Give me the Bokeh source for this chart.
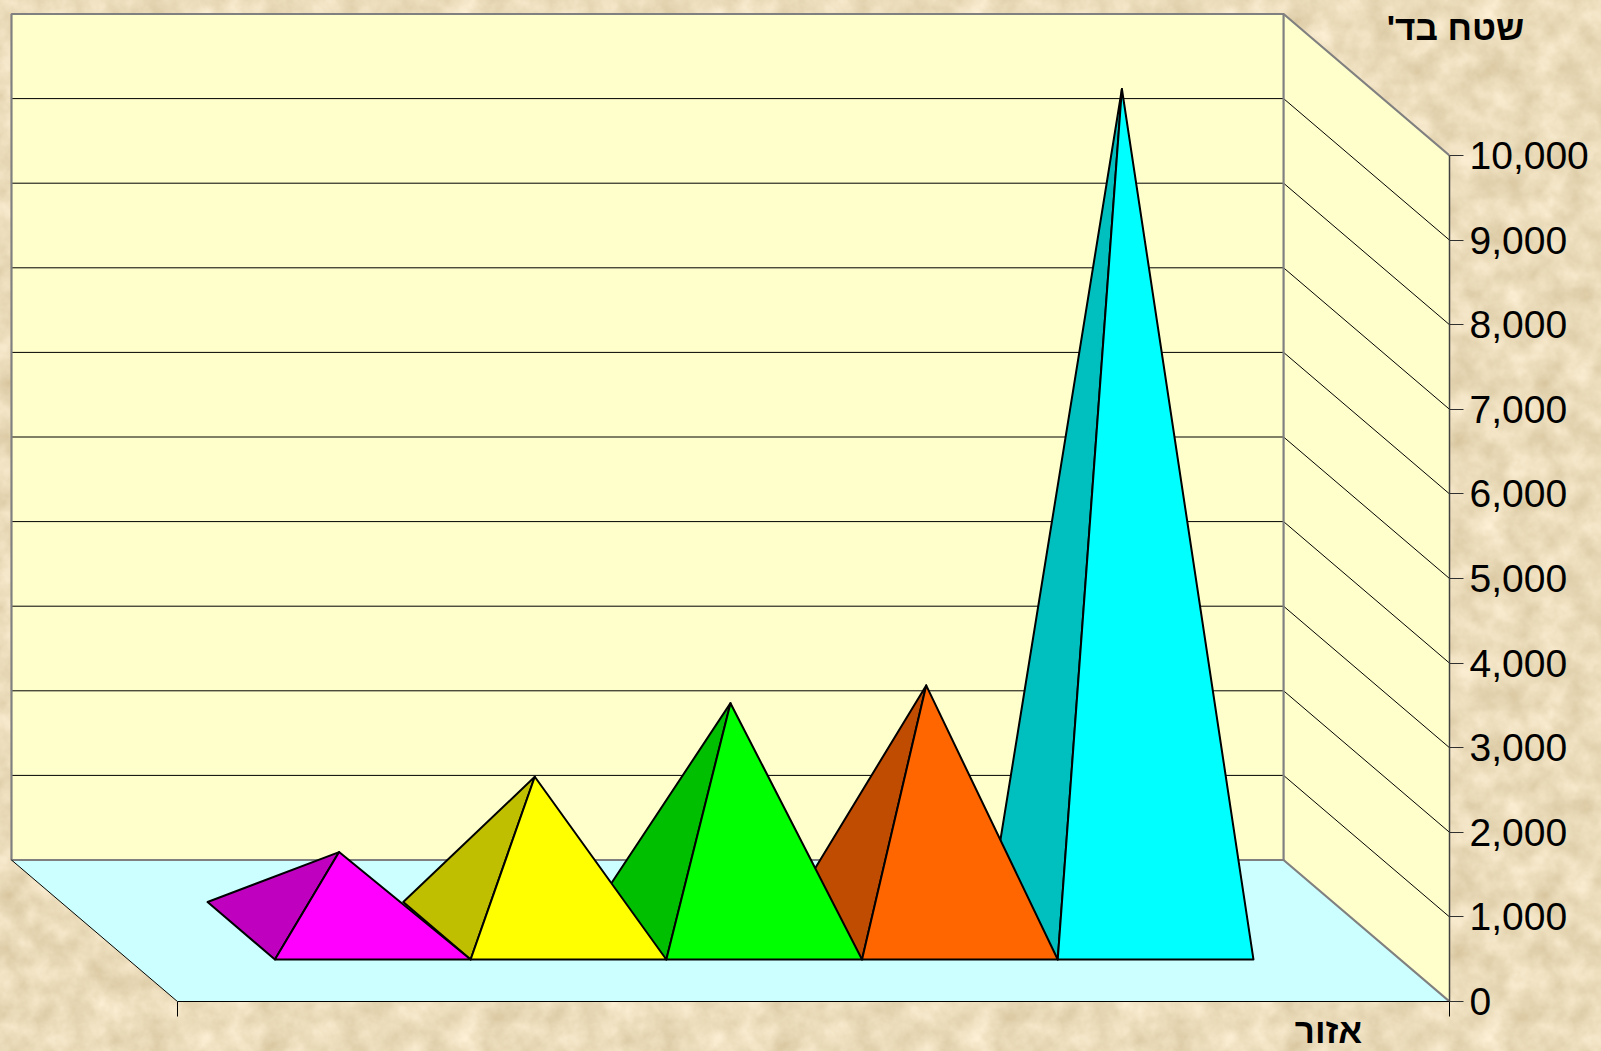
from bokeh.plotting import figure
from bokeh.models import LinearAxis, FixedTicker, NumeralTickFormatter, Label, Range1d
from bokeh.embed import file_html
from bokeh.resources import INLINE

# ---- data ----
values = [930, 1820, 2690, 2900, 9950]
front_colors = ["#FF00FF", "#FFFF00", "#00FF00", "#FF6600", "#00FFFF"]
side_colors = ["#BF00BF", "#BFBF00", "#00BF00", "#BF4C00", "#00BFBF"]
y_ticks = [0, 1000, 2000, 3000, 4000, 5000, 6000, 7000, 8000, 9000, 10000]
y_title = "שטח בד'\u200f"
x_title = "אזור"

# ---- layout ----
BAND_PX = 195.8
VALUE_PX = 0.0846
ORIGIN_X = 177.0
ORIGIN_Y = 1001.0
DEPTH_X = -166.0 / BAND_PX
DEPTH_Y = 141.5 / VALUE_PX
N_BANDS = 6.5
FIRST = 0.75
D_FRONT, D_MID, D_BACK = 0.297, 0.5, 0.703
TOP = y_ticks[-1]
PANEL_TOP = 39   # height of the panel holding the upper title; scrolled off the page top


def X(band, depth=0.0):
    return band + depth * DEPTH_X


def Y(val, depth=0.0):
    return val + depth * DEPTH_Y


p = figure(
    frame_width=int(ORIGIN_X + N_BANDS * BAND_PX),
    frame_height=int(ORIGIN_Y),
    x_range=Range1d(-ORIGIN_X / BAND_PX, N_BANDS),
    y_range=Range1d(0, ORIGIN_Y / VALUE_PX),
    output_backend="svg",
    toolbar_location=None,
    min_border_left=0,
    min_border_top=0,
    min_border_right=0,
    min_border_bottom=45,
    x_axis_location=None,
    y_axis_location=None,
    background_fill_color=None,
    border_fill_color=None,
    outline_line_color=None,
)
p.grid.visible = False

WALL = "#FFFFCC"
FLOOR = "#CCFFFF"
EDGE = "#808080"

# back wall, side wall, floor
p.patch([X(0, 1), X(N_BANDS, 1), X(N_BANDS, 1), X(0, 1)],
        [Y(0, 1), Y(0, 1), Y(TOP, 1), Y(TOP, 1)], fill_color=WALL, line_color=None)
p.patch([X(N_BANDS, 0), X(N_BANDS, 1), X(N_BANDS, 1), X(N_BANDS, 0)],
        [Y(0, 0), Y(0, 1), Y(TOP, 1), Y(TOP, 0)], fill_color=WALL, line_color=None)
p.patch([X(0, 0), X(N_BANDS, 0), X(N_BANDS, 1), X(0, 1)],
        [Y(0, 0), Y(0, 0), Y(0, 1), Y(0, 1)], fill_color=FLOOR, line_color=None)

# gridlines on both walls
inner = y_ticks[1:-1]
p.multi_line([[X(0, 1), X(N_BANDS, 1), X(N_BANDS, 0)] for _ in inner],
             [[Y(v, 1), Y(v, 1), Y(v, 0)] for v in inner],
             line_color="#000000", line_width=1)

# wall edges
p.line([X(N_BANDS, 0), X(N_BANDS, 1), X(0, 1), X(0, 1), X(N_BANDS, 1), X(N_BANDS, 0)],
       [Y(TOP, 0), Y(TOP, 1), Y(TOP, 1), Y(0, 1), Y(0, 1), Y(0, 0)],
       line_color=EDGE, line_width=2.2)
p.line([X(N_BANDS, 1), X(N_BANDS, 1)], [Y(0, 1), Y(TOP, 1)], line_color=EDGE, line_width=2.2)
p.line([X(0, 1), X(0, 0)], [Y(0, 1), Y(0, 0)], line_color="#000000", line_width=1)

# pyramids, drawn from the far right to the near left
for i in reversed(range(len(values))):
    b = FIRST + i
    v = values[i]
    p.patch([X(b, D_FRONT), X(b, D_BACK), X(b + 0.5, D_MID)],
            [Y(0, D_FRONT), Y(0, D_BACK), Y(v, D_MID)],
            fill_color=side_colors[i], line_color="#000000", line_width=2, line_join="round")
    p.patch([X(b, D_FRONT), X(b + 1, D_FRONT), X(b + 0.5, D_MID)],
            [Y(0, D_FRONT), Y(0, D_FRONT), Y(v, D_MID)],
            fill_color=front_colors[i], line_color="#000000", line_width=2, line_join="round")

# real axes
y_axis = LinearAxis(
    ticker=FixedTicker(ticks=y_ticks),
    formatter=NumeralTickFormatter(format="0,0"),
    bounds=(0, TOP),
    axis_line_color="#404040",
    axis_line_width=1.5,
    major_tick_line_color="#303030",
    major_tick_line_width=1,
    major_tick_in=0,
    major_tick_out=14,
    minor_tick_line_color=None,
    major_label_text_font="Liberation Sans",
    major_label_text_font_size="39px",
    major_label_text_color="#000000",
    major_label_standoff=6,
)
p.add_layout(y_axis, "right")

x_axis = LinearAxis(
    ticker=FixedTicker(ticks=[0, N_BANDS]),
    bounds=(0, N_BANDS),
    axis_line_color="#000000",
    axis_line_width=1,
    major_tick_line_color="#000000",
    major_tick_line_width=1,
    major_tick_in=0,
    major_tick_out=15,
    minor_tick_line_color=None,
    major_label_text_font_size="0px",
    major_label_text_color=None,
)
p.add_layout(x_axis, "below")


def title(text, px, py, side):
    p.add_layout(Label(
        x=px, y=py + PANEL_TOP, x_units="canvas", y_units="canvas", text=text,
        text_font="Liberation Sans", text_font_style="bold", text_font_size="35px",
        text_color="#000000", text_align="center", text_baseline="middle",
    ), side)


title(y_title, 1455, 27, "above")
title(x_title, 1328, 1030, "below")

html = file_html(p, INLINE)
svg = (
    "<svg xmlns='http://www.w3.org/2000/svg' width='512' height='512'>"
    "<filter id='a' color-interpolation-filters='sRGB' x='0' y='0' width='100%' height='100%'>"
    "<feTurbulence type='fractalNoise' baseFrequency='0.035' numOctaves='4' seed='7' stitchTiles='stitch'/>"
    "<feColorMatrix values='0.18 0 0 0 0.83 0.2 0 0 0 0.76 0.26 0 0 0 0.6 0 0 0 0 1'/>"
    "</filter><rect width='512' height='512' filter='url(#a)'/></svg>"
)
css = ('<style>html{margin:0;overflow:hidden;background-color:#EBDBB9;'
       'background-image:url("data:image/svg+xml,'
       + svg.replace("#", "%23").replace("<", "%3C").replace(">", "%3E")
       + '");}body{margin:-%dpx 0 0 0;overflow:visible;height:auto;background:none;}</style>' % PANEL_TOP)
html = html.replace("</head>", css + "</head>", 1)
open("out.html", "w").write(html)
